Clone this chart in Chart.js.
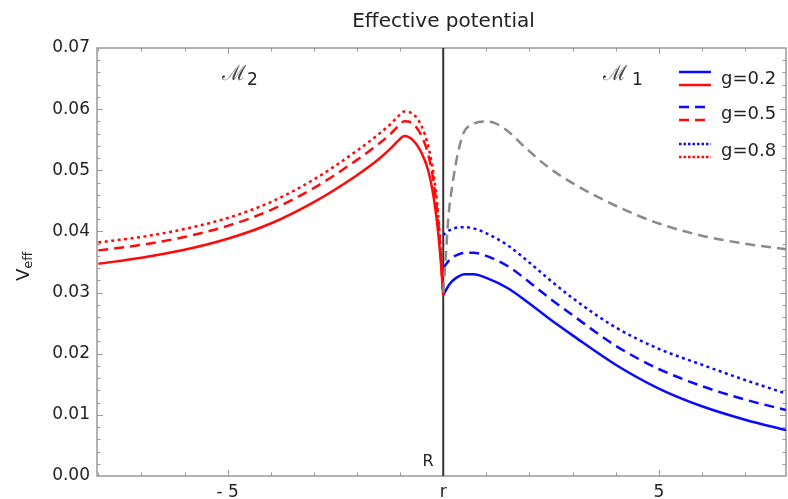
<!DOCTYPE html>
<html>
<head>
<meta charset="utf-8">
<script src="https://cdn.jsdelivr.net/npm/chart.js@4.4.1/dist/chart.umd.min.js"></script>
<style>
  body { margin: 0; background: #fff; }
  #wrap { width: 788px; height: 499px; }
</style>
</head>
<body>
<div id="wrap"><canvas id="chart" width="788" height="499"></canvas></div>
<script>
// x values for the M2 side (left of r) and the M1 side (right of r)
const leftX = [-8, -7, -6, -5, -4, -3, -2, -1.5, -1.2, -1.05, -0.9, -0.7, -0.5, -0.35, -0.22, -0.12, -0.05, 0];
const redSolid  = [0.0347, 0.0357, 0.0370, 0.0388, 0.0413, 0.0448, 0.0492, 0.0518, 0.0537, 0.0548, 0.0556, 0.0549, 0.0528, 0.0500, 0.0455, 0.0400, 0.0345, 0.0296];
const redDashed = [0.0369, 0.0378, 0.0391, 0.0409, 0.0435, 0.0471, 0.0517, 0.0543, 0.0561, 0.0572, 0.0580, 0.0576, 0.0556, 0.0526, 0.0480, 0.0420, 0.0355, 0.0296];
const redDotted = [0.0382, 0.0391, 0.0404, 0.0422, 0.0448, 0.0485, 0.0532, 0.0559, 0.0577, 0.0588, 0.0596, 0.0592, 0.0572, 0.0540, 0.0492, 0.0430, 0.0360, 0.0296];

const rightX = [0, 0.15, 0.3, 0.5, 0.7, 1, 1.5, 2, 2.5, 3, 4, 5, 6, 7, 7.95];
const blueSolid  = [0.0296, 0.0314, 0.0324, 0.0330, 0.0330, 0.0324, 0.0307, 0.0282, 0.0255, 0.0230, 0.0182, 0.0143, 0.0114, 0.0092, 0.0075];
const blueDashed = [0.0340, 0.0354, 0.0361, 0.0365, 0.0365, 0.0360, 0.0343, 0.0317, 0.0289, 0.0263, 0.0213, 0.0175, 0.0147, 0.0125, 0.0108];
const blueDotted = [0.0394, 0.0402, 0.0406, 0.0407, 0.0405, 0.0397, 0.0377, 0.0349, 0.0319, 0.0291, 0.0243, 0.0208, 0.0182, 0.0157, 0.0135];

const grayX = [0, 0.06, 0.12, 0.2, 0.28, 0.37, 0.47, 0.7, 0.97, 1.2, 1.5, 1.86, 2.4, 3, 4, 5, 6, 7, 7.95];
const grayDashed = [0.0300, 0.0360, 0.0424, 0.0470, 0.0506, 0.0537, 0.0561, 0.0576, 0.0580, 0.0577, 0.0564, 0.0540, 0.0507, 0.0479, 0.0442, 0.0413, 0.0393, 0.0380, 0.0371];

// the wall at r = R
const wallX = [0, 0];
const wallY = [0, 0.07];

const xTicks = [-5, 0, 5];
const legendLabels = ['g=0.2', 'g=0.5', 'g=0.8'];

const BLUE = '#0a0aff';
const RED = '#ff0a0a';
const SOLID = [];
const DASH = [10, 6];
const DOT = [3, 3.5];

const pts = (xs, ys) => xs.map((x, i) => ({ x: x, y: ys[i] }));

const curve = (xs, ys, color, dash) => ({
  data: pts(xs, ys),
  borderColor: color,
  borderWidth: 2.5,
  borderDash: dash,
  pointRadius: 0,
  fill: false,
  cubicInterpolationMode: 'monotone'
});

// frame with inward ticks, Mathematica style
const framePlugin = {
  id: 'frame',
  beforeDatasetsDraw(chart) {
    const { ctx, chartArea: a, scales } = chart;
    const xs = scales.x, ys = scales.y;
    ctx.save();
    ctx.strokeStyle = '#999';
    ctx.lineWidth = 1.5;
    ctx.strokeRect(a.left, a.top, a.right - a.left, a.bottom - a.top);
    ctx.lineWidth = 1;
    ctx.beginPath();
    for (let v = -8; v <= 8; v++) {
      const px = Math.round(xs.getPixelForValue(v)) + 0.5;
      if (px < a.left + 1 || px > a.right - 1) continue;
      const len = v % 5 === 0 ? 6 : 3.5;
      ctx.moveTo(px, a.bottom); ctx.lineTo(px, a.bottom - len);
      ctx.moveTo(px, a.top); ctx.lineTo(px, a.top + len);
    }
    for (let k = 0; k <= 35; k++) {
      const v = k * 0.002;
      const py = Math.round(ys.getPixelForValue(v)) + 0.5;
      if (py < a.top + 1 || py > a.bottom - 1) continue;
      const len = k % 5 === 0 ? 6 : 3.5;
      ctx.moveTo(a.left, py); ctx.lineTo(a.left + len, py);
      ctx.moveTo(a.right, py); ctx.lineTo(a.right - len, py);
    }
    ctx.stroke();
    ctx.restore();
  },
  afterDraw(chart) {
    const { ctx, chartArea: a } = chart;
    ctx.save();
    ctx.fillStyle = '#222';
    ctx.textBaseline = 'middle';

    // title
    ctx.font = '20px "DejaVu Sans"';
    ctx.textAlign = 'center';
    ctx.fillText('Effective potential', (a.left + a.right) / 2 + 2, 22);

    // y label V_eff
    ctx.save();
    ctx.translate(24, 262);
    ctx.rotate(-Math.PI / 2);
    ctx.textAlign = 'left';
    ctx.font = '18px "DejaVu Sans"';
    const w = ctx.measureText('V').width;
    ctx.fillText('V', -19, 0);
    ctx.font = '13px "DejaVu Sans"';
    ctx.fillText('eff', -19 + w, 5);
    ctx.restore();

    // R at the wall
    ctx.font = '16px "DejaVu Sans"';
    ctx.textAlign = 'center';
    ctx.fillText('R', 428, 462);

    // region labels
    ctx.fillStyle = '#444';
    ctx.textAlign = 'left';
    ctx.font = '21px "DejaVu Serif"';
    ctx.fillText('\u2133', 222, 75);
    ctx.fillText('\u2133', 603, 75);
    ctx.fillStyle = '#222';
    ctx.font = '17px "DejaVu Sans"';
    ctx.fillText('2', 247, 81);
    ctx.fillText('1', 632, 81);

    // legend: blue sample above red sample for each g
    const rows = [72, 107, 144];
    const dashes = [SOLID, DASH, [2.5, 2]];
    rows.forEach((y, i) => {
      ctx.lineWidth = 2.5;
      ctx.setLineDash(dashes[i]);
      ctx.strokeStyle = BLUE;
      ctx.beginPath(); ctx.moveTo(679, y); ctx.lineTo(711, y); ctx.stroke();
      ctx.strokeStyle = RED;
      ctx.beginPath(); ctx.moveTo(679, y + 13); ctx.lineTo(711, y + 13); ctx.stroke();
      ctx.setLineDash([]);
      ctx.fillStyle = '#222';
      ctx.font = '18px "DejaVu Sans"';
      ctx.textAlign = 'left';
      ctx.fillText(legendLabels[i], 721, y + 7);
    });
    ctx.restore();
  }
};

new Chart(document.getElementById('chart'), {
  type: 'line',
  data: {
    datasets: [
      curve(grayX, grayDashed, '#8a8a8a', DASH),
      curve(leftX, redSolid, RED, SOLID),
      curve(leftX, redDashed, RED, DASH),
      curve(leftX, redDotted, RED, DOT),
      curve(rightX, blueSolid, BLUE, SOLID),
      curve(rightX, blueDashed, BLUE, DASH),
      curve(rightX, blueDotted, BLUE, DOT),
      { data: pts(wallX, wallY), borderColor: '#333', borderWidth: 2, pointRadius: 0, tension: 0 }
    ]
  },
  options: {
    responsive: false,
    animation: false,
    devicePixelRatio: 1,
    layout: { padding: { top: 48, right: 2, left: 0, bottom: 0 } },
    plugins: { legend: { display: false }, tooltip: { enabled: false }, title: { display: false } },
    scales: {
      x: {
        type: 'linear',
        min: -8.03,
        max: 7.95,
        grid: { display: false, drawTicks: false },
        border: { display: false },
        afterBuildTicks: (scale) => { scale.ticks = xTicks.map(v => ({ value: v })); },
        afterFit: (scale) => { scale.height = 23; },
        ticks: {
          autoSkip: false,
          maxRotation: 0,
          padding: 6,
          color: '#222',
          font: { family: 'DejaVu Sans', size: 17 },
          callback: (v) => v === 0 ? 'r' : (v < 0 ? '- ' + (-v) : String(v))
        }
      },
      y: {
        min: 0,
        max: 0.07,
        grid: { display: false, drawTicks: false },
        border: { display: false },
        afterFit: (scale) => { scale.width = 97; },
        ticks: {
          stepSize: 0.01,
          padding: 7,
          color: '#222',
          font: { family: 'DejaVu Sans', size: 17 },
          callback: (v) => Number(v).toFixed(2)
        }
      }
    }
  },
  plugins: [framePlugin]
});
</script>
</body>
</html>
